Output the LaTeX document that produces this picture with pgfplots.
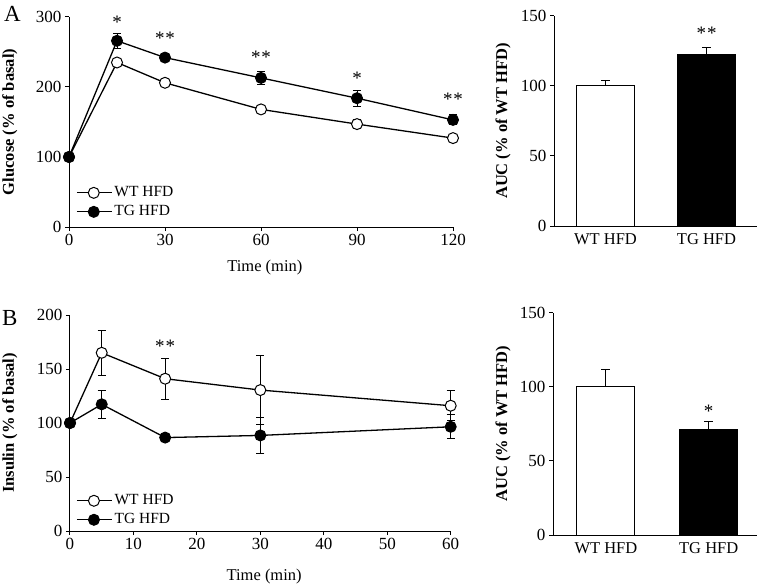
\documentclass[border=0pt]{standalone}
\usepackage{fontspec}
\setmainfont{Liberation Serif}
\usepackage{pgfplots}
\pgfplotsset{compat=1.18}
\newcommand{\tf}{\fontsize{16.5}{19}\selectfont}
\newcommand{\nf}{\fontsize{17}{20}\selectfont}
\newcommand{\starf}{\fontsize{19}{22}\selectfont}
\pgfplotsset{
  base/.style={scale only axis, anchor=south west, clip=false,
    axis x line*=bottom, axis y line*=left,
    axis line style={-, line width=1pt},
    tick align=outside, major tick length=4pt,
    tick style={black, line width=1pt},
    /pgf/number format/assume math mode=true,
    tick label style={font=\nf},
    xlabel style={font=\tf, anchor=center},
    ylabel style={font=\tf\bfseries, anchor=center}},
  lineser/.style={black, line width=1.3pt, mark=*, mark size=5.5pt,
    mark options={line width=1pt, fill=#1},
    error bars/.cd, y dir=both, y explicit,
    error bar style={line width=1pt},
    error mark options={rotate=90, mark size=4pt, line width=1pt}},
  barser/.style={ybar, bar shift=0pt, bar width=58pt, draw=black, fill=#1, line width=1pt,
    error bars/.cd, y dir=plus, y explicit,
    error bar style={line width=1pt},
    error mark options={rotate=90, mark size=4.5pt, line width=1pt}},
  leg/.style={legend style={draw=none, fill=none, inner sep=0pt, row sep=0pt,
    nodes={inner sep=2pt, text height=11pt, text depth=4pt, font=\fontsize{15.5}{18}\selectfont},
    anchor=south west},
    legend cell align=left,
    legend image code/.code={\draw[mark repeat=2,mark phase=2,##1] plot coordinates {(0pt,0pt) (17pt,0pt) (35pt,0pt)};}},
}
\begin{document}
\begin{tikzpicture}
\path[use as bounding box] (0,0) rectangle (762pt,587pt);
\node[anchor=base west, font=\fontsize{23}{26}\selectfont, inner sep=0pt] at (4pt,565pt) {A};
\node[anchor=base west, font=\fontsize{23}{26}\selectfont, inner sep=0pt] at (2pt,262pt) {B};

% Panel A: glucose
\begin{axis}[base, leg, at={(69pt,360pt)}, width=384pt, height=210pt,
  xmin=0, xmax=120, ymin=0, ymax=300,
  xtick={0,30,60,90,120}, ytick={0,100,200,300},
  xlabel={Time (min)}, ylabel={Glucose (\% of basal)},
  xlabel style={at={(axis description cs:0.51,-0.195)}},
  ylabel style={at={(axis description cs:-0.154,0.5)}},
  legend style={at={(axis description cs:0.018,0.026)}}]
\addplot[lineser=white] table[x=t, y=m, y error=e] {
t m e
0 100 0
15 235 6
30 206 5
60 168 5
90 147 6
120 127 2
};
\addlegendentry{WT HFD}
\addplot[lineser=black] table[x=t, y=m, y error=e] {
t m e
0 100 0
15 266 10.5
30 242 4
60 213 9.5
90 184 11.5
120 153 7
};
\addlegendentry{TG HFD}
\node[anchor=base, font=\starf] at (axis cs:15,284) {*};
\node[anchor=base, font=\starf] at (axis cs:30,261) {*\kern1pt*};
\node[anchor=base, font=\starf] at (axis cs:60,233) {*\kern1pt*};
\node[anchor=base, font=\starf] at (axis cs:90,204) {*};
\node[anchor=base, font=\starf] at (axis cs:120,174) {*\kern1pt*};
\end{axis}

% Panel A: AUC
\begin{axis}[base, at={(554pt,361pt)}, width=203pt, height=210pt,
  xmin=0.49, xmax=2.5, ymin=0, ymax=150,
  xtick={1,2}, xticklabels={WT HFD, TG HFD}, ytick={0,50,100,150},
  major x tick style={draw=none},
  xticklabel style={font=\tf},
  ylabel={AUC (\% of WT HFD)},
  ylabel style={at={(axis description cs:-0.251,0.5)}}]
\addplot[barser=white] coordinates {(1,100) +- (0,3.6)};
\addplot[barser=black] coordinates {(2,122.6) +- (0,4.7)};
\node[anchor=base, font=\starf] at (axis cs:2,133) {*\kern1pt*};
\end{axis}

% Panel B: insulin
\begin{axis}[base, leg, at={(70pt,56pt)}, width=380.7pt, height=216pt,
  xmin=0, xmax=60, ymin=0, ymax=200,
  xtick={0,10,...,60}, ytick={0,50,100,150,200},
  xlabel={Time (min)}, ylabel={Insulin (\% of basal)},
  xlabel style={at={(axis description cs:0.51,-0.212)}},
  ylabel style={at={(axis description cs:-0.158,0.5)}},
  legend style={at={(axis description cs:0.016,0.007)}}]
\addplot[lineser=white] table[x=t, y=m, y error=e] {
t m e
0 100 0
5 165 21
15 141 19
30 130.5 32
60 116 14
};
\addlegendentry{WT HFD}
\addplot[lineser=black] table[x=t, y=m, y error=e] {
t m e
0 100 0
5 117.3 13
15 86.5 4
30 88.5 16.5
60 96.5 11
};
\addlegendentry{TG HFD}
\node[anchor=base, font=\starf] at (axis cs:15,165) {*\kern1pt*};
\end{axis}

% Panel B: AUC
\begin{axis}[base, at={(553pt,52pt)}, width=204pt, height=222.3pt,
  xmin=0.485, xmax=2.47, ymin=0, ymax=150,
  xtick={1,2}, xticklabels={WT HFD, TG HFD}, ytick={0,50,100,150},
  major x tick style={draw=none},
  xticklabel style={font=\tf},
  ylabel={AUC (\% of WT HFD)},
  ylabel style={at={(axis description cs:-0.245,0.5)}}]
\addplot[barser=white] coordinates {(1,100) +- (0,12)};
\addplot[barser=black] coordinates {(2,71.5) +- (0,5)};
\node[anchor=base, font=\starf] at (axis cs:2,79.5) {*};
\end{axis}
\end{tikzpicture}
\end{document}
